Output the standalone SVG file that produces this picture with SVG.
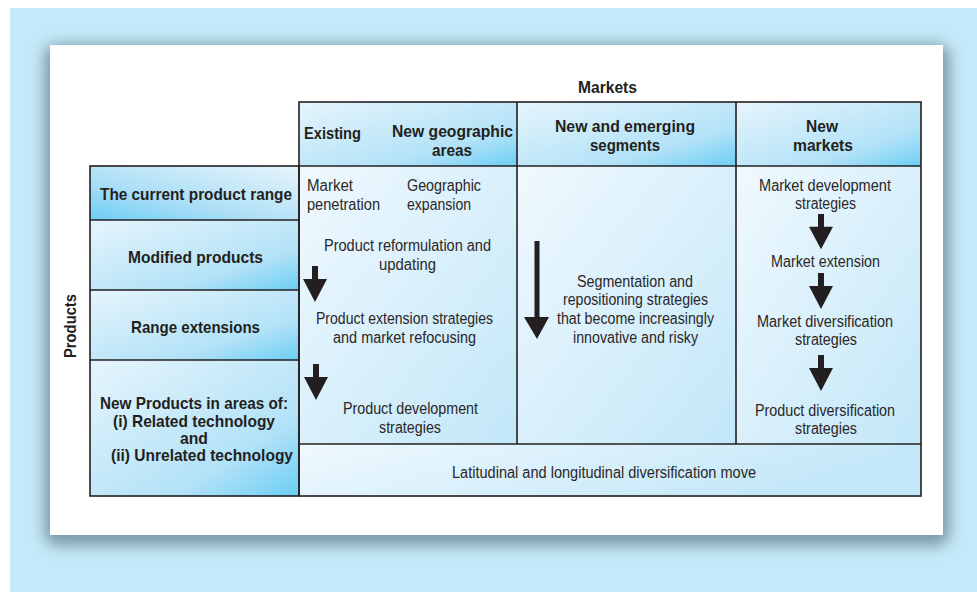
<svg xmlns="http://www.w3.org/2000/svg" width="977" height="592" viewBox="0 0 977 592">
<defs>
<linearGradient id="gHead" x1="0" y1="0" x2="1" y2="1"><stop offset="0" stop-color="#e6f5fc"/><stop offset="0.7" stop-color="#b3e2f7"/><stop offset="1" stop-color="#6ccef5"/></linearGradient>
<linearGradient id="gHeadRev" x1="1" y1="0" x2="0" y2="1"><stop offset="0" stop-color="#e6f5fc"/><stop offset="0.6" stop-color="#aedff6"/><stop offset="1" stop-color="#6ccef5"/></linearGradient>
<linearGradient id="gBody" x1="0" y1="0" x2="1" y2="1"><stop offset="0" stop-color="#f0f9fe"/><stop offset="1" stop-color="#c2e7f8"/></linearGradient>
<linearGradient id="gBottom" x1="0" y1="0" x2="1" y2="0.3"><stop offset="0" stop-color="#f0f9fe"/><stop offset="1" stop-color="#c2e7f8"/></linearGradient>
<filter id="sh" x="-10%" y="-10%" width="120%" height="125%"><feGaussianBlur stdDeviation="7"/></filter>
<path id="arrowS" d="M-3,0 H3 V13 H12 L0,36 L-12,13 H-3 Z"/>
</defs>
<style>
.ln{fill:none;stroke:#231f20;stroke-width:1.6}
.hd{font-family:"Liberation Sans",Arial,sans-serif;font-weight:bold;font-size:17px;fill:#231f20}
.tx{font-family:"Liberation Sans",Arial,sans-serif;font-size:16px;fill:#2b2728}
.c{text-anchor:middle}
.ar{fill:#231f20}
</style>
<rect x="10" y="8" width="967" height="584" fill="#c5e9f8"/>
<rect x="44" y="44" width="906" height="502" rx="14" fill="#6f8d9c" opacity="0.85" filter="url(#sh)"/>
<rect x="50" y="45" width="893" height="490" fill="#ffffff"/>

<text class="hd" x="578" y="93" textLength="59" lengthAdjust="spacingAndGlyphs">Markets</text>
<text class="hd" transform="translate(76,358) rotate(-90)" textLength="64" lengthAdjust="spacingAndGlyphs">Products</text>

<g id="col-headers">
<rect x="299" y="102" width="218" height="64" fill="url(#gHead)"/>
<rect x="517" y="102" width="219" height="64" fill="url(#gHead)"/>
<rect x="736" y="102" width="185" height="64" fill="url(#gHead)"/>
<text class="hd" x="304" y="139" textLength="57" lengthAdjust="spacingAndGlyphs">Existing</text>
<text class="hd" x="392" y="137" textLength="121" lengthAdjust="spacingAndGlyphs">New geographic</text>
<text class="hd" x="432" y="156" textLength="40" lengthAdjust="spacingAndGlyphs">areas</text>
<text class="hd" x="555" y="132" textLength="140" lengthAdjust="spacingAndGlyphs">New and emerging</text>
<text class="hd" x="590" y="151" textLength="70" lengthAdjust="spacingAndGlyphs">segments</text>
<text class="hd" x="806" y="132" textLength="32" lengthAdjust="spacingAndGlyphs">New</text>
<text class="hd" x="793" y="151" textLength="60" lengthAdjust="spacingAndGlyphs">markets</text>
</g>

<g id="row-headers">
<rect x="90" y="166" width="209" height="54" fill="url(#gHeadRev)"/>
<rect x="90" y="220" width="209" height="70" fill="url(#gHead)"/>
<rect x="90" y="290" width="209" height="70" fill="url(#gHead)"/>
<rect x="90" y="360" width="209" height="136" fill="url(#gHead)"/>
<text class="hd" x="100" y="200" textLength="192" lengthAdjust="spacingAndGlyphs">The current product range</text>
<text class="hd" x="128" y="263" textLength="135" lengthAdjust="spacingAndGlyphs">Modified products</text>
<text class="hd" x="131" y="333" textLength="129" lengthAdjust="spacingAndGlyphs">Range extensions</text>
<text class="hd" x="100" y="409" textLength="188" lengthAdjust="spacingAndGlyphs">New Products in areas of:</text>
<text class="hd" x="113" y="427" textLength="162" lengthAdjust="spacingAndGlyphs">(i) Related technology</text>
<text class="hd" x="180" y="444" textLength="28" lengthAdjust="spacingAndGlyphs">and</text>
<text class="hd" x="111" y="461" textLength="182" lengthAdjust="spacingAndGlyphs">(ii) Unrelated technology</text>
</g>

<g id="cell-existing">
<rect x="299" y="166" width="218" height="278" fill="url(#gBody)"/>
<text class="tx" x="307" y="191" textLength="46" lengthAdjust="spacingAndGlyphs">Market</text>
<text class="tx" x="307" y="210" textLength="73" lengthAdjust="spacingAndGlyphs">penetration</text>
<text class="tx" x="407" y="191" textLength="74" lengthAdjust="spacingAndGlyphs">Geographic</text>
<text class="tx" x="407" y="210" textLength="64" lengthAdjust="spacingAndGlyphs">expansion</text>
<text class="tx" x="324" y="251" textLength="167" lengthAdjust="spacingAndGlyphs">Product reformulation and</text>
<text class="tx" x="379" y="270" textLength="57" lengthAdjust="spacingAndGlyphs">updating</text>
<text class="tx" x="316" y="324" textLength="177" lengthAdjust="spacingAndGlyphs">Product extension strategies</text>
<text class="tx" x="333" y="343" textLength="143" lengthAdjust="spacingAndGlyphs">and market refocusing</text>
<text class="tx" x="343" y="414" textLength="135" lengthAdjust="spacingAndGlyphs">Product development</text>
<text class="tx" x="379" y="433" textLength="62" lengthAdjust="spacingAndGlyphs">strategies</text>
</g>

<g id="cell-segments">
<rect x="517" y="166" width="219" height="278" fill="url(#gBody)"/>
<text class="tx" x="577" y="287" textLength="116" lengthAdjust="spacingAndGlyphs">Segmentation and</text>
<text class="tx" x="563" y="305" textLength="145" lengthAdjust="spacingAndGlyphs">repositioning strategies</text>
<text class="tx" x="557" y="324" textLength="157" lengthAdjust="spacingAndGlyphs">that become increasingly</text>
<text class="tx" x="573" y="343" textLength="125" lengthAdjust="spacingAndGlyphs">innovative and risky</text>
</g>

<g id="cell-new-markets">
<rect x="736" y="166" width="185" height="278" fill="url(#gBody)"/>
<text class="tx" x="759" y="191" textLength="132" lengthAdjust="spacingAndGlyphs">Market development</text>
<text class="tx" x="795" y="209" textLength="61" lengthAdjust="spacingAndGlyphs">strategies</text>
<text class="tx" x="771" y="267" textLength="109" lengthAdjust="spacingAndGlyphs">Market extension</text>
<text class="tx" x="757" y="327" textLength="136" lengthAdjust="spacingAndGlyphs">Market diversification</text>
<text class="tx" x="795" y="345" textLength="62" lengthAdjust="spacingAndGlyphs">strategies</text>
<text class="tx" x="755" y="416" textLength="140" lengthAdjust="spacingAndGlyphs">Product diversification</text>
<text class="tx" x="795" y="434" textLength="62" lengthAdjust="spacingAndGlyphs">strategies</text>
</g>

<g id="cell-bottom">
<rect x="299" y="444" width="622" height="52" fill="url(#gBottom)"/>
<text class="tx" x="452" y="478" textLength="304" lengthAdjust="spacingAndGlyphs">Latitudinal and longitudinal diversification move</text>
</g>

<g id="connectors">
<use href="#arrowS" class="ar" transform="translate(315,266)"/>
<use href="#arrowS" class="ar" transform="translate(316,364)"/>
<path class="ar" d="M534.5,241 H539.5 V317 H549 L537,339 L524,317 H534.5 Z"/>
<use href="#arrowS" class="ar" transform="translate(821,214) scale(1,0.98)"/>
<use href="#arrowS" class="ar" transform="translate(821,273)"/>
<use href="#arrowS" class="ar" transform="translate(821,355)"/>
</g>

<g id="grid">
<rect class="ln" x="299" y="102" width="622" height="394"/>
<rect class="ln" x="90" y="166" width="209" height="330"/>
<line class="ln" x1="517" y1="102" x2="517" y2="444"/>
<line class="ln" x1="736" y1="102" x2="736" y2="444"/>
<line class="ln" x1="299" y1="166" x2="921" y2="166"/>
<line class="ln" x1="299" y1="444" x2="921" y2="444"/>
<line class="ln" x1="90" y1="220" x2="299" y2="220"/>
<line class="ln" x1="90" y1="290" x2="299" y2="290"/>
<line class="ln" x1="90" y1="360" x2="299" y2="360"/>
</g>
</svg>
